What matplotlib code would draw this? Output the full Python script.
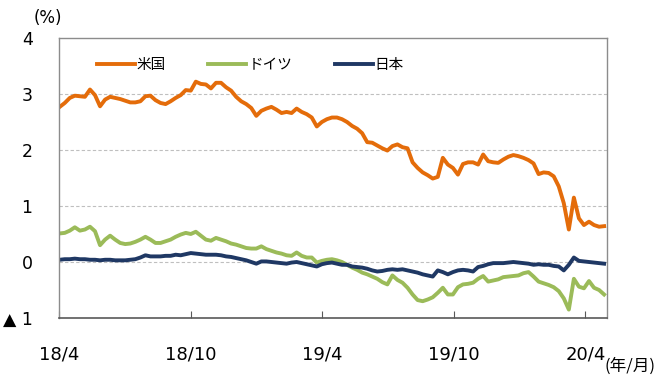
import matplotlib
matplotlib.use("Agg")
import matplotlib.pyplot as plt
import pandas as pd

# weekly observation dates (Mondays), 2018/4 - 2020/4
dates = pd.date_range("2018-04-02", periods=109, freq="7D")

us = [2.77, 2.84, 2.93, 2.97, 2.96, 2.95, 3.08, 2.98, 2.78, 2.90,
      2.95, 2.93, 2.91, 2.88, 2.85, 2.85, 2.87, 2.96, 2.97, 2.89,
      2.84, 2.82, 2.87, 2.93, 2.98, 3.07, 3.06, 3.22, 3.18, 3.17,
      3.10, 3.20, 3.20, 3.12, 3.06, 2.95, 2.87, 2.82, 2.75, 2.61,
      2.70, 2.74, 2.77, 2.72, 2.66, 2.68, 2.66, 2.74, 2.68, 2.64,
      2.58, 2.42, 2.50, 2.55, 2.58, 2.58, 2.55, 2.50, 2.43, 2.38,
      2.30, 2.14, 2.13, 2.08, 2.03, 1.99, 2.07, 2.10, 2.05, 2.03,
      1.78, 1.68, 1.60, 1.55, 1.49, 1.52, 1.86, 1.74, 1.68, 1.56,
      1.75, 1.78, 1.78, 1.74, 1.92, 1.80, 1.78, 1.77, 1.83, 1.88,
      1.91, 1.89, 1.86, 1.82, 1.76, 1.57, 1.60, 1.59, 1.53, 1.35,
      1.05, 0.58, 1.15, 0.78, 0.66, 0.72, 0.66, 0.63, 0.64]

germany = [0.51, 0.52, 0.56, 0.62, 0.56, 0.58, 0.63, 0.55, 0.30, 0.40,
           0.47, 0.40, 0.34, 0.32, 0.33, 0.36, 0.40, 0.45, 0.40, 0.34,
           0.34, 0.37, 0.40, 0.45, 0.49, 0.52, 0.50, 0.54, 0.47, 0.40,
           0.38, 0.43, 0.40, 0.37, 0.33, 0.31, 0.28, 0.25, 0.24, 0.24,
           0.28, 0.23, 0.20, 0.17, 0.15, 0.12, 0.11, 0.17, 0.11, 0.08,
           0.08, -0.01, 0.02, 0.04, 0.05, 0.03, 0.00, -0.05, -0.10, -0.14,
           -0.19, -0.22, -0.26, -0.30, -0.36, -0.40, -0.24, -0.32, -0.37, -0.46,
           -0.58, -0.68, -0.70, -0.67, -0.63, -0.55, -0.46, -0.58, -0.58, -0.45,
           -0.40, -0.39, -0.37, -0.30, -0.25, -0.35, -0.33, -0.31, -0.27, -0.26,
           -0.25, -0.24, -0.20, -0.18, -0.26, -0.35, -0.38, -0.41, -0.45, -0.52,
           -0.65, -0.85, -0.30, -0.44, -0.47, -0.34, -0.46, -0.50, -0.58]

japan = [0.04, 0.05, 0.05, 0.06, 0.05, 0.05, 0.04, 0.04, 0.03, 0.04,
         0.04, 0.03, 0.03, 0.03, 0.04, 0.05, 0.08, 0.12, 0.10, 0.10,
         0.10, 0.11, 0.11, 0.13, 0.12, 0.14, 0.16, 0.15, 0.14, 0.13,
         0.13, 0.13, 0.12, 0.10, 0.09, 0.07, 0.05, 0.03, 0.00, -0.03,
         0.01, 0.01, 0.00, -0.01, -0.02, -0.03, -0.01, 0.00, -0.02, -0.04,
         -0.06, -0.08, -0.04, -0.02, -0.01, -0.03, -0.05, -0.05, -0.08, -0.09,
         -0.10, -0.12, -0.15, -0.17, -0.16, -0.14, -0.13, -0.14, -0.13, -0.15,
         -0.17, -0.19, -0.22, -0.24, -0.26, -0.15, -0.18, -0.22, -0.18, -0.15,
         -0.14, -0.15, -0.17, -0.09, -0.07, -0.04, -0.02, -0.02, -0.02, -0.01,
         0.00, -0.01, -0.02, -0.03, -0.05, -0.04, -0.05, -0.05, -0.07, -0.08,
         -0.15, -0.05, 0.08, 0.02, 0.01, 0.00, -0.01, -0.02, -0.03]

series_names = ["米国", "ドイツ", "日本"]
series_colors = ["#e46c0a", "#9bbb59", "#1f3864"]

xtick_dates = ["2018-04-01", "2018-10-01", "2019-04-01", "2019-10-01", "2020-04-01"]
xtick_labels = ["18/4", "18/10", "19/4", "19/10", "20/4"]
ytick_values = [-1, 0, 1, 2, 3, 4]
ytick_labels = ["▲ 1", "0", "1", "2", "3", "4"]

cjk = ["Noto Sans CJK JP", "DejaVu Sans"]

fig = plt.figure(figsize=(6.6, 3.81), dpi=100)
ax = fig.add_axes([59/660, 1 - 318/381, 548/660, 280/381])

for vals, name, col in zip([us, germany, japan], series_names, series_colors):
    ax.plot(dates, vals, color=col, lw=2.8, label=name, solid_joinstyle="round")

ax.set_xlim(pd.Timestamp("2018-04-01"), pd.Timestamp("2020-05-01"))
ax.set_ylim(-1, 4)

ax.set_yticks(ytick_values)
ax.set_yticklabels(ytick_labels, fontsize=12.5)
ax.tick_params(axis="y", length=0, pad=19, colors="#000000")

ax.set_xticks([pd.Timestamp(d) for d in xtick_dates])
ax.set_xticklabels(xtick_labels, fontsize=13)
ax.tick_params(axis="x", direction="in", length=5, pad=20, color="#595959")

for yv in [0, 1, 2, 3]:
    ax.axhline(yv, color="#bfbfbf", lw=0.8, ls=(0, (3, 2)), zorder=0)

for s in ["top", "right", "left"]:
    ax.spines[s].set_color("#8c8c8c")
    ax.spines[s].set_linewidth(1.0)
ax.spines["bottom"].set_color("#595959")
ax.spines["bottom"].set_linewidth(1.2)

leg = ax.legend(loc="upper left", bbox_to_anchor=(0.045, 0.975), ncol=3,
                frameon=False, handlelength=2.6, handletextpad=0.15,
                columnspacing=2.9, prop={"family": cjk, "size": 10.5})

fig.text(34/660, 1 - 18/381, "(%)", fontsize=12, va="center", ha="left")
fig.text(656/660, 1 - 366/381, "(年/月)", fontsize=12, va="center", ha="right",
         family=cjk)

fig.savefig("out.png", dpi=100)
